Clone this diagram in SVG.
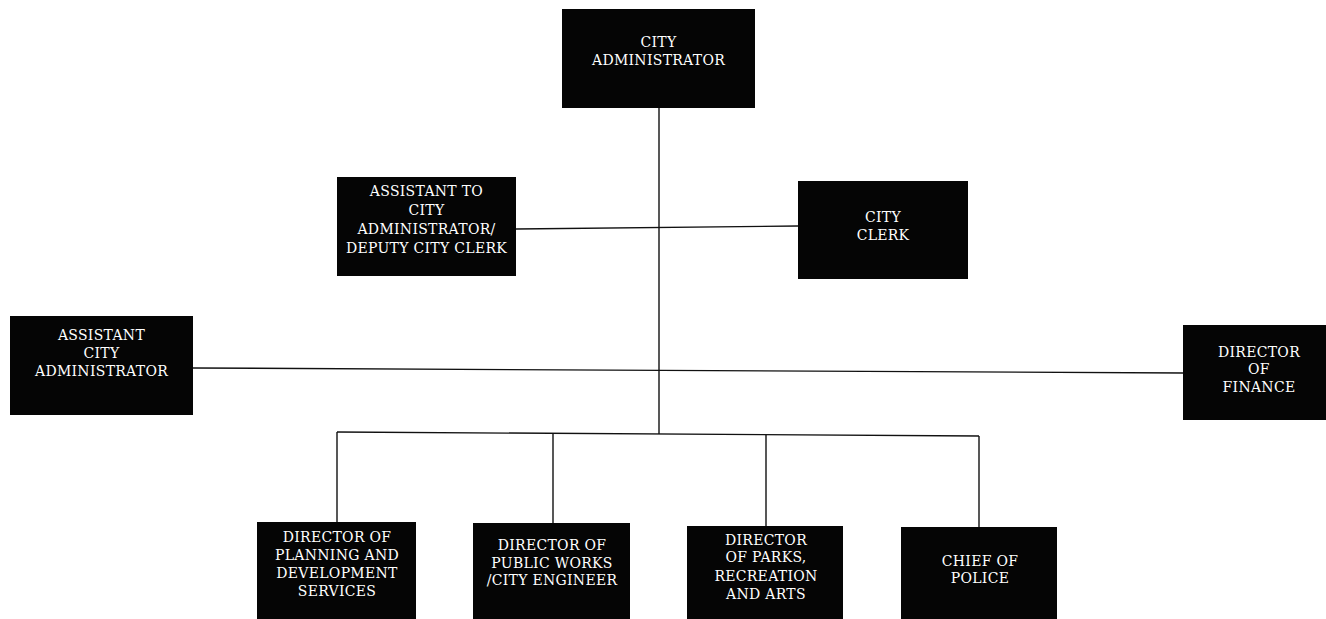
<svg xmlns="http://www.w3.org/2000/svg" width="1326" height="619" viewBox="0 0 1326 619">
<style>
.box{fill:#050505}
.t{fill:#ffffff;font-family:"DejaVu Serif","Liberation Serif",serif;font-size:14px;text-anchor:middle;letter-spacing:0.3px}
.c{stroke:#111;stroke-width:1.4;fill:none}
</style>
<rect width="1326" height="619" fill="#ffffff"/>
<g id="connectors">
<line class="c" x1="659" y1="108" x2="659" y2="434"/>
<line class="c" x1="516" y1="229" x2="798" y2="226"/>
<line class="c" x1="193" y1="368" x2="1183" y2="373"/>
<line class="c" x1="337" y1="432" x2="979" y2="436"/>
<line class="c" x1="337" y1="432" x2="337" y2="522"/>
<line class="c" x1="553" y1="433" x2="553" y2="523"/>
<line class="c" x1="766" y1="435" x2="766" y2="526"/>
<line class="c" x1="979" y1="436" x2="979" y2="527"/>
</g>
<g id="city-administrator">
<rect class="box" x="562" y="9" width="193" height="99"/>
<text class="t" x="658.5" y="47">CITY</text>
<text class="t" x="658.5" y="65">ADMINISTRATOR</text>
</g>
<g id="assistant-to-city-administrator">
<rect class="box" x="337" y="177" width="179" height="99"/>
<text class="t" x="426.5" y="196">ASSISTANT TO</text>
<text class="t" x="426.5" y="215">CITY</text>
<text class="t" x="426.5" y="234">ADMINISTRATOR/</text>
<text class="t" x="426.5" y="253">DEPUTY CITY CLERK</text>
</g>
<g id="city-clerk">
<rect class="box" x="798" y="181" width="170" height="98"/>
<text class="t" x="883" y="222">CITY</text>
<text class="t" x="883" y="240">CLERK</text>
</g>
<g id="assistant-city-administrator">
<rect class="box" x="10" y="316" width="183" height="99"/>
<text class="t" x="101.5" y="340">ASSISTANT</text>
<text class="t" x="101.5" y="358">CITY</text>
<text class="t" x="101.5" y="376">ADMINISTRATOR</text>
</g>
<g id="director-of-finance">
<rect class="box" x="1183" y="325" width="143" height="95"/>
<text class="t" x="1259" y="357">DIRECTOR</text>
<text class="t" x="1259" y="374">OF</text>
<text class="t" x="1259" y="392">FINANCE</text>
</g>
<g id="director-planning">
<rect class="box" x="257" y="522" width="159" height="97"/>
<text class="t" x="337" y="542">DIRECTOR OF</text>
<text class="t" x="337" y="560">PLANNING AND</text>
<text class="t" x="337" y="578">DEVELOPMENT</text>
<text class="t" x="337" y="596">SERVICES</text>
</g>
<g id="director-public-works">
<rect class="box" x="473" y="523" width="157" height="96"/>
<text class="t" x="552" y="550">DIRECTOR OF</text>
<text class="t" x="552" y="568">PUBLIC WORKS</text>
<text class="t" x="552" y="585">/CITY ENGINEER</text>
</g>
<g id="director-parks">
<rect class="box" x="687" y="526" width="156" height="93"/>
<text class="t" x="766" y="545">DIRECTOR</text>
<text class="t" x="766" y="562">OF PARKS,</text>
<text class="t" x="766" y="581">RECREATION</text>
<text class="t" x="766" y="599">AND ARTS</text>
</g>
<g id="chief-of-police">
<rect class="box" x="901" y="527" width="156" height="92"/>
<text class="t" x="980" y="566">CHIEF OF</text>
<text class="t" x="980" y="583">POLICE</text>
</g>
</svg>
